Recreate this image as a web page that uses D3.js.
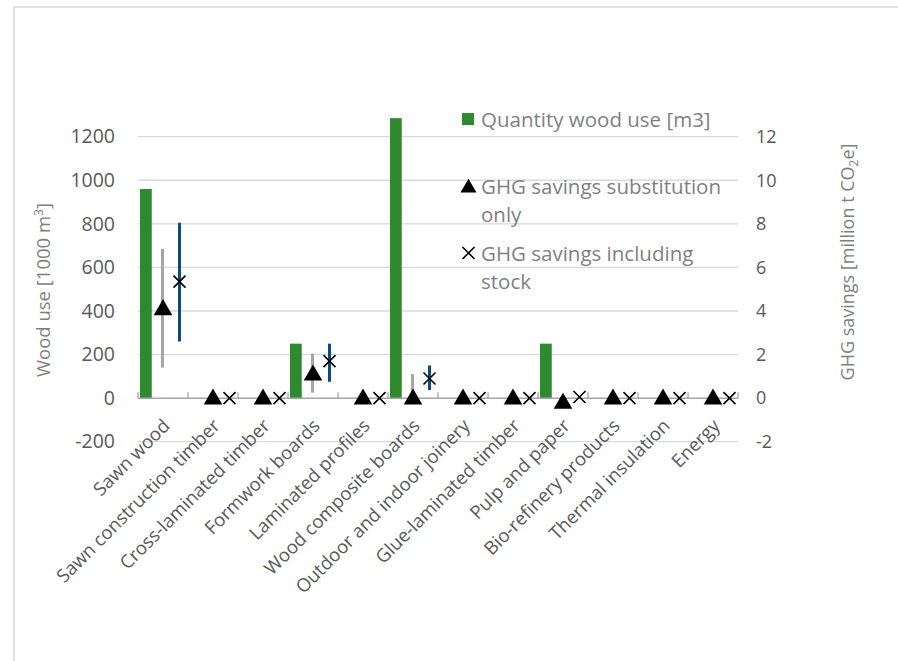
<!DOCTYPE html>
<html>
<head>
<meta charset="utf-8">
<script src="https://cdn.jsdelivr.net/npm/d3@7"></script>
<style>
  body { margin: 0; background: #fff; }
  text { font-family: "Open Sans", sans-serif; }
</style>
</head>
<body>
<div id="chart"></div>
<script>
// Data
const categories = ["Sawn wood", "Sawn construction timber", "Cross-laminated timber", "Formwork boards",
  "Laminated profiles", "Wood composite boards", "Outdoor and indoor joinery", "Glue-laminated timber",
  "Pulp and paper", "Bio-refinery products", "Thermal insulation", "Energy"];
const woodUse = [960, 0, 0, 250, 0, 1285, 0, 0, 250, 0, 0, 0];
const substOnly = [4.1, 0, 0, 1.1, 0, 0, 0, 0, -0.2, 0, 0, 0];
const substLow = [1.4, null, null, 0.25, null, 0, null, null, null, null, null, null];
const substHigh = [6.85, null, null, 2.05, null, 1.1, null, null, null, null, null, null];
const inclStock = [5.35, 0, 0, 1.7, 0, 0.9, 0, 0, 0.05, 0, 0, 0];
const stockLow = [2.6, null, null, 0.75, null, 0.37, null, null, null, null, null, null];
const stockHigh = [8.05, null, null, 2.5, null, 1.5, null, null, null, null, null, null];
const leftTicks = [-200, 0, 200, 400, 600, 800, 1000, 1200];
const rightTicks = [-2, 0, 2, 4, 6, 8, 10, 12];

const W = 898, H = 661;
const svg = d3.select("#chart").append("svg").attr("width", W).attr("height", H);

// outer border (only top and left visible)
svg.append("rect").attr("x", 14).attr("y", 7).attr("width", 900).attr("height", 700)
  .attr("fill", "none").attr("stroke", "#d9d9d9").attr("stroke-width", 1.5);

const x = d3.scaleBand().domain(categories).range([138, 738]);
const bw = x.bandwidth();
const yL = d3.scaleLinear().domain([-200, 1300]).range([441.7, 114.9]);
const yR = d3.scaleLinear().domain([-2, 13]).range([441.7, 114.9]);

// gridlines
svg.append("g").selectAll("line").data(leftTicks.filter(d => d !== 0)).join("line")
  .attr("x1", 138).attr("x2", 738)
  .attr("y1", d => yL(d)).attr("y2", d => yL(d))
  .attr("stroke", "#d9d9d9").attr("stroke-width", 1.3);

// left axis
const gL = svg.append("g").attr("transform", "translate(138,0)")
  .call(d3.axisLeft(yL).tickValues(leftTicks).tickFormat(d => String(d)).tickSize(0).tickPadding(23));
gL.select(".domain").remove();
gL.selectAll("text").attr("font-size", 19.5).attr("fill", "#595959");

// right axis
const gR = svg.append("g").attr("transform", "translate(738,0)")
  .call(d3.axisRight(yR).tickValues(rightTicks).tickFormat(d => String(d)).tickSize(0).tickPadding(18));
gR.select(".domain").remove();
gR.selectAll("text").attr("font-size", 18).attr("fill", "#595959");

// axis titles
const tL = svg.append("text").attr("transform", "translate(50,290) rotate(-90)")
  .attr("text-anchor", "middle").attr("font-size", 18.5).attr("fill", "#7f7f7f");
tL.append("tspan").text("Wood use [1000 m");
tL.append("tspan").attr("dy", -7).attr("font-size", 12).text("3");
tL.append("tspan").attr("dy", 7).text("]");

const tR = svg.append("text").attr("transform", "translate(854,262) rotate(-90)")
  .attr("text-anchor", "middle").attr("font-size", 18).attr("fill", "#7f7f7f");
tR.append("tspan").text("GHG savings [million t CO");
tR.append("tspan").attr("dy", 4).attr("font-size", 12).text("2");
tR.append("tspan").attr("dy", -4).text("e]");

// bars
svg.append("g").selectAll("rect").data(woodUse).join("rect")
  .attr("x", (d, i) => x(categories[i]) + bw * 0.04)
  .attr("width", bw * 0.235)
  .attr("y", d => yL(Math.max(d, 0)))
  .attr("height", d => Math.abs(yL(d) - yL(0)))
  .attr("fill", "#2f892f");

// category axis line with ticks
svg.append("line").attr("x1", 138).attr("x2", 738).attr("y1", yL(0)).attr("y2", yL(0))
  .attr("stroke", "#a6a6a6").attr("stroke-width", 1.5);
svg.append("g").selectAll("line").data(d3.range(categories.length + 1)).join("line")
  .attr("x1", i => 138 + i * bw).attr("x2", i => 138 + i * bw)
  .attr("y1", yL(0)).attr("y2", yL(0) - 6)
  .attr("stroke", "#a6a6a6").attr("stroke-width", 1.3);

// error ranges
const triX = (i) => x(categories[i]) + bw * 0.5;
const crossX = (i) => x(categories[i]) + bw * 0.83;
svg.append("g").selectAll("line").data(d3.range(categories.length).filter(i => substLow[i] !== null)).join("line")
  .attr("x1", i => triX(i) - 0.5).attr("x2", i => triX(i) - 0.5)
  .attr("y1", i => yR(substLow[i])).attr("y2", i => yR(substHigh[i]))
  .attr("stroke", "#a5a5a5").attr("stroke-width", 3);
svg.append("g").selectAll("line").data(d3.range(categories.length).filter(i => stockLow[i] !== null)).join("line")
  .attr("x1", i => crossX(i)).attr("x2", i => crossX(i))
  .attr("y1", i => yR(stockLow[i])).attr("y2", i => yR(stockHigh[i]))
  .attr("stroke", "#0c4a85").attr("stroke-width", 3);

// markers
const tri = d3.symbol().type(d3.symbolTriangle).size(150);
svg.append("g").selectAll("path").data(substOnly).join("path")
  .attr("d", tri)
  .attr("transform", (d, i) => `translate(${triX(i)},${yR(d) + 1})`)
  .attr("fill", "#000");

const crossPath = "M-6,-6L6,6M-6,6L6,-6";
svg.append("g").selectAll("path").data(inclStock).join("path")
  .attr("d", crossPath)
  .attr("transform", (d, i) => `translate(${crossX(i)},${yR(d)})`)
  .attr("stroke", "#000").attr("stroke-width", 1.6).attr("fill", "none");

// category labels
svg.append("g").selectAll("text").data(categories).join("text")
  .attr("transform", d => `translate(${x(d) + bw / 2 + 8},427) rotate(-45)`)
  .attr("text-anchor", "end").attr("font-size", 18.5).attr("fill", "#595959")
  .text(d => d);

// legend
const lg = svg.append("g").attr("font-size", 20.5).attr("fill", "#7f7f7f");
lg.append("rect").attr("x", 462).attr("y", 113).attr("width", 12).attr("height", 12).attr("fill", "#2f892f");
lg.append("text").attr("x", 481).attr("y", 127).text("Quantity wood use [m3]");
lg.append("path").attr("d", d3.symbol().type(d3.symbolTriangle).size(110))
  .attr("transform", "translate(468.5,188)").attr("fill", "#000");
lg.append("text").attr("x", 481).attr("y", 193.5).text("GHG savings substitution");
lg.append("text").attr("x", 481).attr("y", 222).text("only");
lg.append("path").attr("d", "M-6,-6L6,6M-6,6L6,-6")
  .attr("transform", "translate(468.5,253)").attr("stroke", "#000").attr("stroke-width", 1.6);
lg.append("text").attr("x", 481).attr("y", 260.5).text("GHG savings including");
lg.append("text").attr("x", 481).attr("y", 289).text("stock");
</script>
</body>
</html>
